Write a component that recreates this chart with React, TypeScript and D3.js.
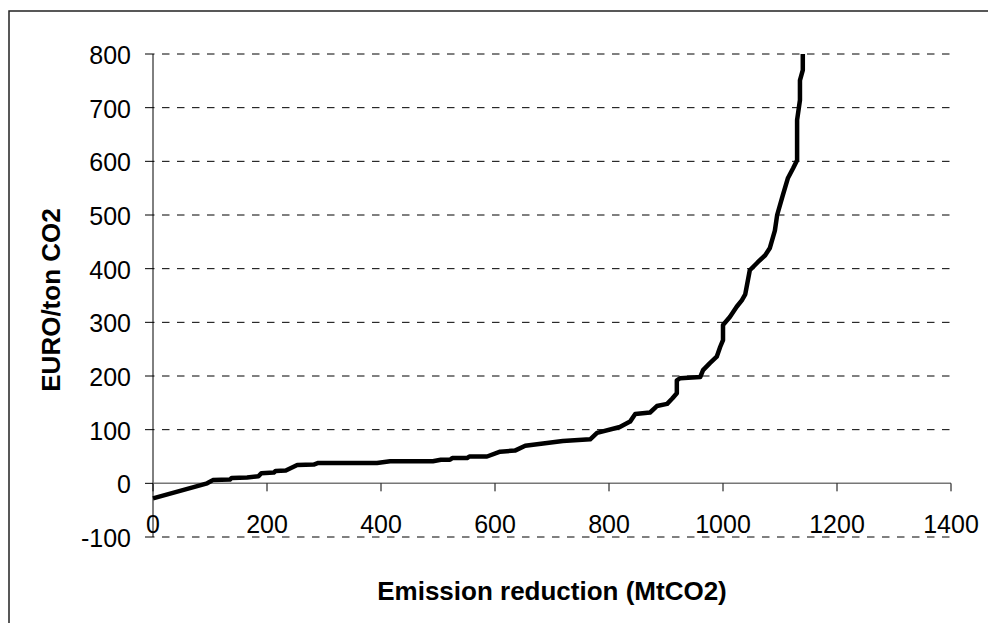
import React from "react";
import * as d3 from "d3";

const reductionX: number[] = [
  0, 95, 105, 135, 138, 165, 185, 190, 212, 215, 233, 253, 282, 290, 393, 416, 491, 505, 521, 525,
  551, 555, 586, 609, 635, 653, 719, 767, 779, 819, 837, 846, 872, 884, 902, 911, 919, 919, 925, 960,
  965, 977, 989, 995, 1000, 1000, 1012, 1024, 1033, 1039, 1047, 1061, 1074, 1082, 1091, 1095, 1105,
  1114, 1123, 1130, 1130, 1135, 1135, 1140, 1140,
];
const costY: number[] = [
  -28, 0, 6, 7, 10, 11, 13, 19, 20, 23, 24, 34, 35, 38, 38, 41, 41, 44, 44, 47,
  47, 50, 50, 59, 61, 70, 79, 82, 94, 105, 115, 129, 132, 144, 148, 158, 168, 192, 196, 198,
  211, 224, 236, 254, 267, 295, 310, 329, 341, 352, 397, 412, 425, 438, 471, 500, 537,
  569, 587, 602, 677, 714, 751, 770, 800,
];
const xTicks: number[] = [0, 200, 400, 600, 800, 1000, 1200, 1400];
const yTicks: number[] = [-100, 0, 100, 200, 300, 400, 500, 600, 700, 800];
const xTitle = "Emission reduction (MtCO2)";
const yTitle = "EURO/ton CO2";

export default function App() {
  const W = 988, H = 623;
  const left = 153, right = 951, top = 54, bottom = 537;
  const x = d3.scaleLinear().domain([0, 1400]).range([left, right]);
  const y = d3.scaleLinear().domain([-100, 800]).range([bottom, top]);
  const pts: [number, number][] = reductionX.map((v, i) => [v, costY[i]]);
  const line = d3.line<[number, number]>().x((d) => x(d[0])).y((d) => y(d[1]));
  const font = "'Liberation Sans', Arial, sans-serif";
  return (
    <svg width={W} height={H} style={{ position: "absolute", left: 0, top: 0, background: "#fff" }}>
      <rect x={0} y={0} width={W} height={H} fill="#fff" />
      <rect x={9} y={11} width={1200} height={1000} fill="none" stroke="#222" strokeWidth={1.5} />
      {yTicks.filter((t) => t !== 0).map((t) => (
        <line key={"g" + t} x1={left} x2={right} y1={y(t)} y2={y(t)} stroke="#000" strokeWidth={1}
          strokeDasharray="7.5 7.5" strokeDashoffset={-9} />
      ))}
      <line x1={left} x2={left} y1={top} y2={bottom} stroke="#000" strokeWidth={1} />
      {yTicks.map((t) => (
        <g key={"y" + t}>
          <line x1={left - 8} x2={left} y1={y(t)} y2={y(t)} stroke="#000" strokeWidth={1} />
          <text x={131} y={y(t) + 10} textAnchor="end" fontFamily={font} fontSize={25} fill="#000">{t}</text>
        </g>
      ))}
      <line x1={left} x2={right} y1={y(0)} y2={y(0)} stroke="#777" strokeWidth={1.5} />
      {xTicks.map((t) => (
        <g key={"x" + t}>
          <line x1={x(t)} x2={x(t)} y1={y(0)} y2={y(0) + 8} stroke="#000" strokeWidth={1} />
          <text x={x(t)} y={533} textAnchor="middle" fontFamily={font} fontSize={25} fill="#000">{t}</text>
        </g>
      ))}
      <path d={line(pts) || ""} fill="none" stroke="#000" strokeWidth={4.5} strokeLinejoin="round" strokeLinecap="butt" />
      <text x={(left + right) / 2} y={600} textAnchor="middle" fontFamily={font} fontSize={26} fontWeight="bold" fill="#000">{xTitle}</text>
      <text transform={`translate(60, 300) rotate(-90)`} textAnchor="middle" fontFamily={font} fontSize={26} fontWeight="bold" fill="#000">{yTitle}</text>
    </svg>
  );
}
